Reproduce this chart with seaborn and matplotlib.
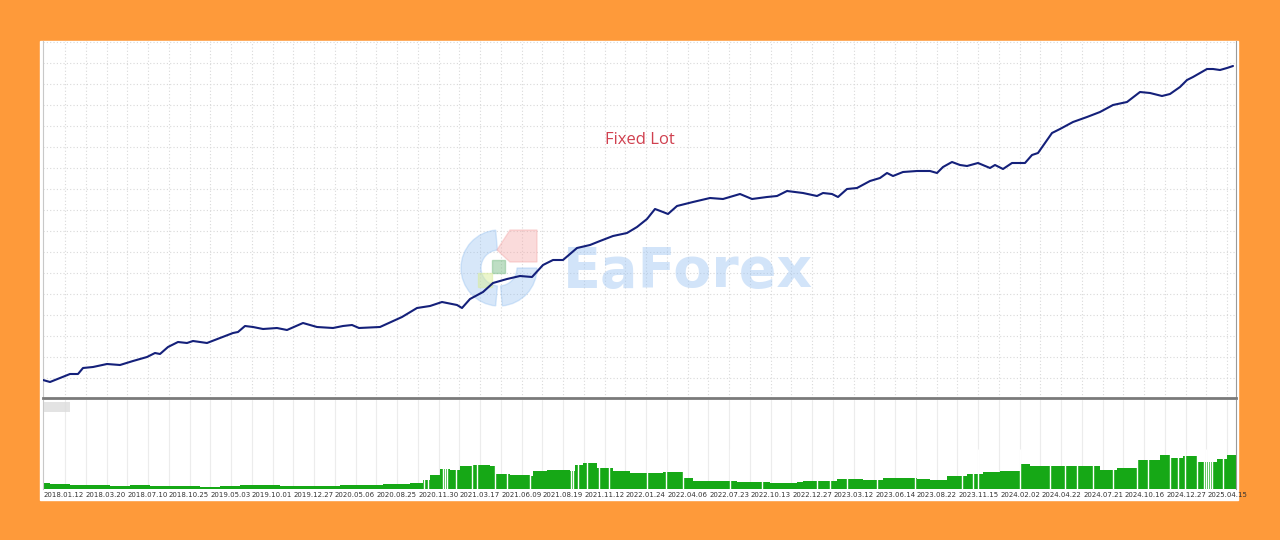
import matplotlib
matplotlib.use('Agg')
import matplotlib.pyplot as plt
from matplotlib.patches import Rectangle, Wedge, Polygon
from matplotlib.transforms import IdentityTransform
import seaborn as sns
import numpy as np

# equity curve (trade number, equity in arbitrary units)
trade_no = [0, 7, 17, 27, 35, 40, 50, 64, 77, 90, 104, 112, 117, 125, 135, 144, 150, 164, 177, 190,
            195, 202, 210, 220, 234, 244, 260, 274, 290, 300, 309, 316, 337, 359, 374, 387, 399, 414,
            419, 427, 440, 450, 464, 477, 489, 500, 510, 520, 534, 547, 557, 570, 584, 594, 604, 612,
            620, 625, 634, 650, 667, 680, 697, 709, 724, 734, 744, 760, 774, 780, 789, 795, 804, 814,
            827, 837, 844, 850, 860, 874, 887, 894, 900, 909, 917, 924, 935, 947, 952, 960, 969, 982,
            989, 995, 1009, 1017, 1030, 1044, 1057, 1070, 1084, 1097, 1107, 1119, 1127, 1137, 1144,
            1150, 1164, 1170, 1177, 1184, 1190]
equity = [20, 18, 22, 26, 26, 32, 33, 36, 35, 39, 43, 47, 46, 53, 58, 57, 59, 57, 62, 67,
          68, 74, 73, 71, 72, 70, 77, 73, 72, 74, 75, 72, 73, 83, 92, 94, 98, 95,
          92, 101, 108, 117, 121, 124, 123, 135, 140, 140, 152, 155, 159, 164, 167, 173, 181, 191,
          188, 186, 194, 198, 202, 201, 206, 201, 203, 204, 209, 207, 204, 207, 206, 203, 211, 212,
          219, 222, 227, 224, 228, 229, 229, 227, 233, 238, 235, 234, 237, 232, 235, 231, 237, 237,
          245, 247, 267, 271, 278, 283, 288, 295, 298, 308, 307, 304, 306, 313, 320,
          323, 331, 331, 330, 332, 334]

# lower panel (load histogram)
load_no = [1, 7, 27, 47, 67, 87, 107, 127, 157, 177, 197, 217, 237, 257, 277, 297, 320, 340, 367,
           380, 387, 397, 407, 417, 430, 447, 452, 467, 487, 490, 504, 527, 532, 540, 554, 570,
           587, 620, 640, 650, 687, 694, 727, 754, 760, 794, 820, 840, 874, 887, 904, 924, 940,
           957, 977, 987, 1007, 1037, 1057, 1074, 1094, 1117, 1127, 1140, 1154, 1167, 1174, 1184, 1193]
load = [6, 5, 4, 4, 3, 4, 3, 3, 2, 3, 4, 4, 3, 3, 3, 4, 4, 5, 6,
        9, 14, 20, 19, 23, 24, 23, 15, 14, 13, 18, 19, 18, 24, 26, 21, 18,
        16, 17, 11, 8, 8, 7, 6, 7, 8, 10, 9, 11, 10, 9, 13, 15, 17,
        18, 25, 23, 23, 23, 19, 21, 29, 34, 31, 33, 27, 27, 30, 34, 33]
load_gaps = [381, 385, 400, 402, 404, 413, 429, 434, 452, 464, 487, 528, 530, 535, 544, 556, 566,
             604, 623, 640, 687, 719, 774, 787, 804, 834, 872, 919, 930, 935, 977, 1007, 1022,
             1034, 1050, 1070, 1094, 1105, 1127, 1135, 1142, 1154, 1161, 1163, 1165, 1167, 1169, 1180]

date_labels = ['2018.01.12', '2018.03.20', '2018.07.10', '2018.10.25', '2019.05.03', '2019.10.01',
               '2019.12.27', '2020.05.06', '2020.08.25', '2020.11.30', '2021.03.17', '2021.06.09',
               '2021.08.19', '2021.11.12', '2022.01.24', '2022.04.06', '2022.07.23', '2022.10.13',
               '2022.12.27', '2023.03.12', '2023.06.14', '2023.08.22', '2023.11.15', '2024.02.02',
               '2024.04.22', '2024.07.21', '2024.10.16', '2024.12.27', '2025.04.15']

W, H = 1280, 540
ORANGE = '#FE9A3A'
GRID = '#d9d9d9'

sns.set_style('white')
plt.rcParams['font.family'] = ['DejaVu Sans']

fig = plt.figure(figsize=(12.8, 5.4), dpi=100, facecolor=ORANGE)
fig.patches.append(Rectangle((40 / W, 1 - 500 / H), 1198 / W, 459 / H,
                             transform=fig.transFigure, color='white', zorder=-5))

ax1 = fig.add_axes([43 / W, 1 - 398 / H, 1193 / W, 357 / H])
ax2 = fig.add_axes([43 / W, 1 - 489 / H, 1193 / W, 89 / H])

# top panel: equity
for x in np.arange(22, 1193, 20.75):
    ax1.axvline(x, color=GRID, lw=0.8, ls=(0, (1, 2)), zorder=0)
for y in np.arange(1, 359, 21):
    ax1.axhline(y, color=GRID, lw=0.8, ls=(0, (1, 2)), zorder=0)

sns.lineplot(x=trade_no, y=equity, ax=ax1, color='#14207a', lw=1.5, estimator=None, zorder=3)
ax1.set_xlim(0, 1193)
ax1.set_ylim(2, 359)
ax1.set_xticks([])
ax1.set_yticks([])
ax1.set_xlabel('')
ax1.set_ylabel('')
ax1.spines['top'].set_visible(False)
ax1.spines['left'].set_color('#c8c8c8')
ax1.spines['right'].set_color('#9a9a9a')
ax1.spines['bottom'].set_color('#7a7a7a')
ax1.spines['bottom'].set_linewidth(2)

# watermark
idt = IdentityTransform()
def px(x, y):
    return (x, H - y)
ax1.add_patch(Wedge(px(499, 268), 38, 95, 265, width=20, transform=idt,
                    color='#8fbdf0', alpha=0.35, zorder=1))
ax1.add_patch(Wedge(px(499, 268), 38, 275, 360, width=20, transform=idt,
                    color='#8fbdf0', alpha=0.35, zorder=1))
ax1.add_patch(Polygon([px(510, 230), px(537, 230), px(537, 262), px(510, 262), px(497, 250)],
                      transform=idt, color='#f4a6a6', alpha=0.4, zorder=1))
ax1.add_patch(Rectangle(px(492, 273), 13, 13, transform=idt, color='#7fbf8a', alpha=0.5, zorder=1))
ax1.add_patch(Rectangle(px(478, 287), 14, 14, transform=idt, color='#d8ec9a', alpha=0.5, zorder=1))
ax1.text(688 / W, 1 - 272 / H, 'EaForex', transform=fig.transFigure, fontsize=40,
         weight='bold', color='#9cc4f2', alpha=0.45, ha='center', va='center', zorder=1)

ax1.text(640 / W, 1 - 140 / H, 'Fixed Lot', transform=fig.transFigure, fontsize=12,
         family=['Open Sans', 'DejaVu Sans'], color='#d0404f', ha='center', va='center', zorder=4)

# bottom panel: load bars
for x in np.arange(22, 1193, 20.75):
    ax2.axvline(x, color='#ececec', lw=0.8, zorder=0)
ax2.fill_between(load_no, load, step='post', color='#16a816', lw=0, zorder=2)
ax2.vlines(load_gaps, 0, 40, color='white', lw=1, zorder=3)
ax2.add_patch(Rectangle((1, 89 - 12), 26, 10, transform=ax2.transData,
                        color='#dcdcdc', alpha=0.8, lw=0, zorder=3))
ax2.set_xlim(0, 1193)
ax2.set_ylim(0, 89)
ax2.set_yticks([])
ax2.set_xticks(np.linspace(1, 1165, len(date_labels)))
ax2.set_xticklabels(date_labels, fontsize=5, ha='left', color='#333333')
ax2.tick_params(axis='x', length=0, pad=2)
ax2.spines['top'].set_visible(False)
ax2.spines['bottom'].set_visible(False)
ax2.spines['left'].set_color('#c8c8c8')
ax2.spines['right'].set_color('#9a9a9a')

fig.savefig('out.png', dpi=100, facecolor=ORANGE)
